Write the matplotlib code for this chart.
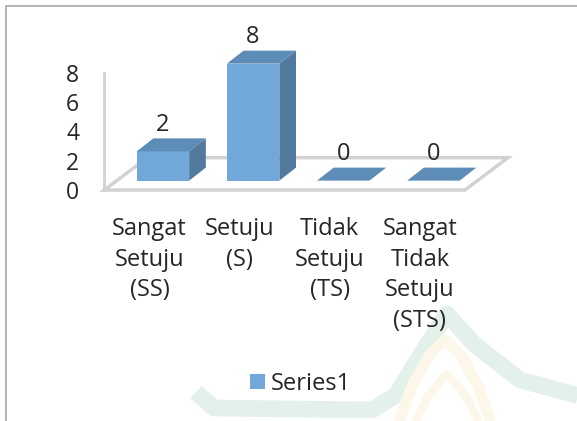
import matplotlib
matplotlib.use("Agg")
import matplotlib.pyplot as plt
from matplotlib.patches import Polygon, Rectangle, Patch
from matplotlib.lines import Line2D

plt.rcParams['font.family'] = ['Open Sans', 'DejaVu Sans']

# data
categories = ["Sangat\nSetuju\n(SS)", "Setuju\n(S)", "Tidak\nSetuju\n(TS)",
              "Sangat\nTidak\nSetuju\n(STS)"]
values = [2, 8, 0, 0]
series_name = "Series1"

# colours
front_c = "#72a7da"
top_c = "#5d8cb6"
side_c = "#527a9e"
grid_c = "#d2d2d2"
text_c = "#262626"

W, H = 577, 421
fig = plt.figure(figsize=(W / 100, H / 100), dpi=100)

# faint watermark in the background (pixel coords, top-left origin)
def px(pts):
    return [(x / W, 1 - y / H) for x, y in pts]

def faint_line(pts, color, lw):
    pp = px(pts)
    fig.add_artist(Line2D([p[0] for p in pp], [p[1] for p in pp], color=color,
                          lw=lw, solid_joinstyle="round", solid_capstyle="butt", zorder=0))

faint_line([(196, 392), (214, 408), (372, 410), (396, 395), (420, 356), (447, 314),
            (474, 344), (520, 380), (580, 396)], "#e4f0ea", 12)
faint_line([(398, 425), (412, 386), (430, 354), (445, 340), (460, 354), (478, 386),
            (492, 425)], "#fcf7e8", 8)
faint_line([(414, 425), (428, 396), (447, 374), (466, 396), (480, 425)], "#fcf7e8", 6)

# chart frame
fig.add_artist(Rectangle((6 / W, -0.1), 1.2, 1 - 5.5 / H + 0.1, transform=fig.transFigure,
                         fill=False, edgecolor="#a8a8a8", lw=1.2, zorder=1))

ax = fig.add_axes([104.3 / W, 1 - 190 / H, 360.7 / W, 117 / H])
ax.set_xlim(-0.5, len(categories) - 0.5)
ax.set_ylim(0, 8)
ax.patch.set_alpha(0)
for s in ax.spines.values():
    s.set_visible(False)

# floor depth and bar geometry (data units)
fdx, fdy = 0.477, 2.21
bdx0, bdy0 = 0.15, 0.64
bdx, bdy = 0.185, 0.89
bw = 0.582

x0, x1 = -0.5, len(categories) - 0.5
floor = Polygon([(x0, 0), (x1, 0), (x1 + fdx, fdy), (x0 + fdx, fdy)], closed=True,
                facecolor="white", edgecolor=grid_c, lw=2.5, clip_on=False, zorder=1)
ax.add_patch(floor)
ax.plot([x0, x0], [0, 8], color=grid_c, lw=2, clip_on=False, zorder=1)

xs = list(range(len(categories)))
bars = ax.bar([x + bdx0 for x in xs], values, width=bw, bottom=bdy0, color=front_c,
              zorder=3, clip_on=False)
for x, v in zip(xs, values):
    xl = x + bdx0 - bw / 2
    xr = x + bdx0 + bw / 2
    yt = bdy0 + v
    ax.add_patch(Polygon([(xl, yt), (xr, yt), (xr + bdx, yt + bdy), (xl + bdx, yt + bdy)],
                         closed=True, facecolor=top_c, edgecolor="none", zorder=3,
                         clip_on=False))
    if v > 0:
        ax.add_patch(Polygon([(xr, bdy0), (xr + bdx, bdy0 + bdy), (xr + bdx, yt + bdy),
                              (xr, yt)], closed=True, facecolor=side_c, edgecolor="none",
                             zorder=3, clip_on=False))
    ax.annotate(str(v), (x + bdx0, yt + bdy), xytext=(0, 9.5), textcoords="offset points",
                ha="center", va="center", fontsize=17, color=text_c, zorder=4,
                annotation_clip=False)

ax.set_yticks([0, 2, 4, 6, 8])
ax.set_xticks(xs)
ax.set_xticklabels(categories, linespacing=1.36)
ax.tick_params(axis="y", length=0, pad=18, labelsize=16.5, labelcolor=text_c)
ax.tick_params(axis="x", length=0, pad=19.5, labelsize=17, labelcolor=text_c)

fig.legend(handles=[Patch(facecolor=front_c, label=series_name)], loc="center",
           bbox_to_anchor=(300.5 / W, 1 - 384 / H), frameon=False, fontsize=17,
           handlelength=0.62, handleheight=0.62, handletextpad=0.25, labelcolor=text_c)

fig.savefig("out.png", dpi=100)
